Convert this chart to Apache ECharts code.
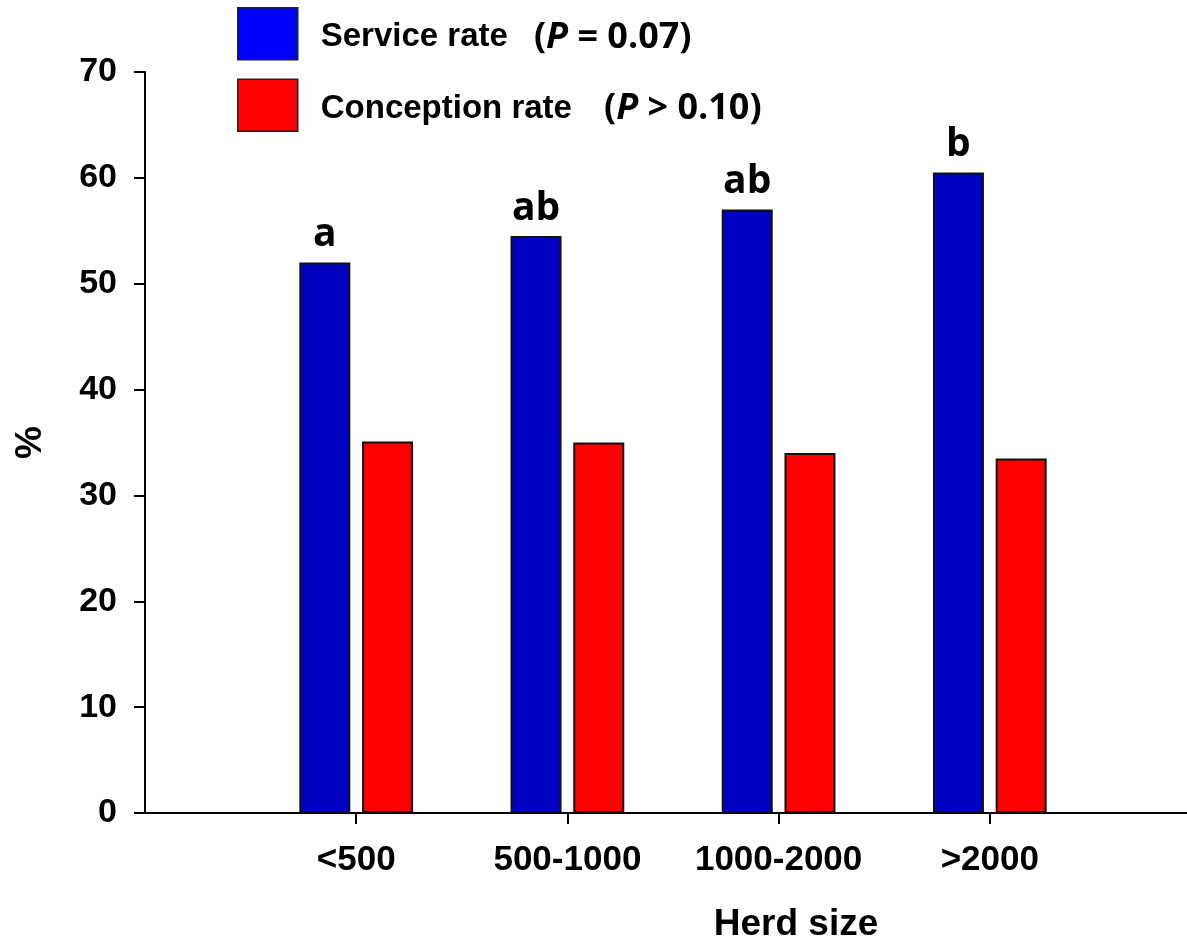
<!DOCTYPE html>
<html>
<head>
<meta charset="utf-8">
<script src="https://cdn.jsdelivr.net/npm/echarts@6/dist/echarts.min.js"></script>
<style>
  html, body { margin: 0; padding: 0; background: #fff; }
  #herdChart { width: 1187px; height: 951px; }
</style>
</head>
<body>
<div id="herdChart"></div>
<script>
var myChart = echarts.init(document.getElementById('herdChart'));

// empty slots at both ends leave the gap before the first and after the last group
var herdSizes = ['', '<500', '500-1000', '1000-2000', '>2000', ''];
var serviceRate = ['-', 52, 54.5, 57, 60.5, '-'];
var conceptionRate = ['-', 35.1, 35, 34, 33.5, '-'];
var serviceLetters = ['', 'a', 'ab', 'ab', 'b', ''];
var yTicks = { min: 0, max: 70, interval: 10 };

var arialBold = { fontFamily: 'Liberation Sans', fontWeight: 'bold', color: '#000' };
var calibriLike = { fontFamily: 'Open Sans', fontWeight: 'bold', fontSize: 36, color: '#000', padding: [7, 0, 0, 0] };

myChart.setOption({
    animation: false,
    title: {
        text: 'Herd size',
        left: 791,
        top: 901,
        textAlign: 'center',
        textStyle: {
            fontFamily: 'Liberation Sans',
            fontWeight: 'bold',
            fontSize: 37,
            color: '#000'
        }
    },
    legend: {
        orient: 'vertical',
        left: 237,
        top: 7,
        padding: 0,
        itemWidth: 60,
        itemHeight: 52,
        itemGap: 18,
        icon: 'rect',
        data: [
            { name: 'Service rate', itemStyle: { color: '#0000ff', borderColor: '#222', borderWidth: 1.5 } },
            { name: 'Conception rate', itemStyle: { color: '#ff0000', borderColor: '#222', borderWidth: 1.5 } }
        ],
        formatter: function (name) {
            if (name === 'Service rate') {
                return '{a|Service rate}{o1|(}{p|P}{c| = 0.07)}';
            }
            return '{a|Conception rate}{o2|(}{p|P}{c| > 0.10)}';
        },
        textStyle: {
            rich: {
                a: {
                    fontFamily: 'Liberation Sans',
                    fontWeight: 'bold',
                    fontSize: 33,
                    color: '#000',
                    padding: [7, 0, 0, 18]
                },
                o1: Object.assign({}, calibriLike, { padding: [7, 0, 0, 26] }),
                o2: Object.assign({}, calibriLike, { padding: [7, 0, 0, 32] }),
                c: calibriLike,
                p: Object.assign({}, calibriLike, { fontStyle: 'italic' })
            }
        }
    },
    grid: {
        left: 145,
        right: -14,
        top: 72,
        bottom: 138,
        outerBoundsMode: 'none'
    },
    xAxis: {
        type: 'category',
        data: herdSizes,
        boundaryGap: false,
        axisLine: { lineStyle: { color: '#000', width: 2 } },
        axisTick: {
            length: 11,
            lineStyle: { color: '#000', width: 2 },
            interval: function (index, value) { return value !== ''; }
        },
        axisLabel: Object.assign({ fontSize: 35, margin: 30, interval: 0 }, arialBold),
        splitLine: { show: false }
    },
    yAxis: {
        type: 'value',
        min: yTicks.min,
        max: yTicks.max,
        interval: yTicks.interval,
        name: '%',
        nameLocation: 'middle',
        nameGap: 96,
        nameRotate: 90,
        nameTextStyle: { fontFamily: 'Liberation Sans', fontWeight: 'bold', fontSize: 37, color: '#000' },
        axisLine: { show: true, lineStyle: { color: '#000', width: 2 } },
        axisTick: { show: true, length: 11, lineStyle: { color: '#000', width: 2 } },
        axisLabel: Object.assign({ fontSize: 34, margin: 28 }, arialBold),
        splitLine: { show: false }
    },
    series: [{
        name: 'Service rate',
        type: 'bar',
        data: serviceRate,
        barWidth: 51,
        barGap: '23%',
        itemStyle: { color: '#0000c0', borderColor: '#111', borderWidth: 2 },
        label: {
            show: true,
            position: 'top',
            distance: 8,
            fontFamily: 'Open Sans',
            fontWeight: 'bold',
            fontSize: 39,
            color: '#000',
            formatter: function (p) { return serviceLetters[p.dataIndex]; }
        }
    }, {
        name: 'Conception rate',
        type: 'bar',
        data: conceptionRate,
        barWidth: 51,
        barGap: '23%',
        itemStyle: { color: '#ff0000', borderColor: '#111', borderWidth: 2 }
    }]
});
</script>
</body>
</html>
